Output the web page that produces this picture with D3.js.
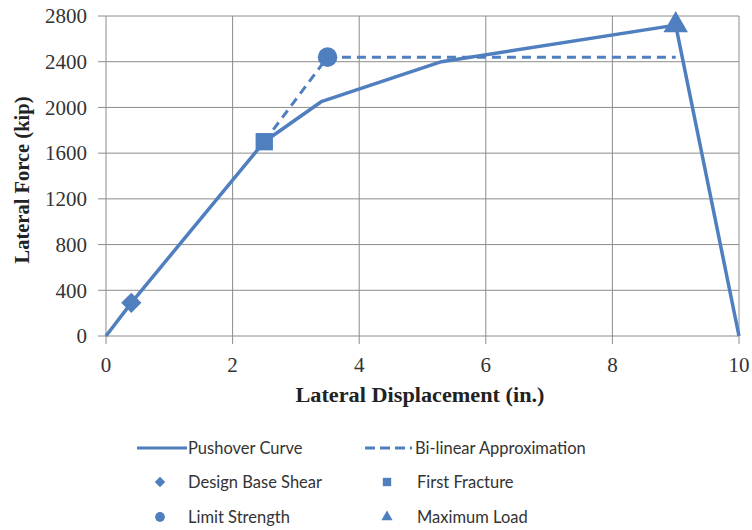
<!DOCTYPE html>
<html>
<head>
<meta charset="utf-8">
<script src="https://cdn.jsdelivr.net/npm/d3@7"></script>
<style>
  body { margin: 0; background: #fff; }
</style>
</head>
<body>
<div id="chart"></div>
<script>
// pushover curve (displacement in., force kip)
const pushoverX = [0, 0.4, 2.5, 3.4, 5.3, 9, 10]
const pushoverY = [0, 290, 1700, 2050, 2400, 2720, 0]

// bi-linear approximation
const bilinearX = [2.5, 3.5, 9]
const bilinearY = [1700, 2440, 2440]

// key points
const markerNames = ["Design Base Shear", "First Fracture", "Limit Strength", "Maximum Load"]
const markerX = [0.4, 2.5, 3.5, 9]
const markerY = [290, 1700, 2440, 2720]
const markerSymbols = [d3.symbolDiamond2, d3.symbolSquare, d3.symbolCircle, d3.symbolTriangle]

const xTicks = [0, 2, 4, 6, 8, 10]
const yTicks = [0, 400, 800, 1200, 1600, 2000, 2400, 2800]

const blue = "#4f7fbe"
const grid = "#8c8c8c"

let width = 752,
    height = 530

let svg = d3.select("#chart").append("svg")
    .attr("width", width)
    .attr("height", height)

let x = d3.scaleLinear().domain([0, 10]).range([106, 739])
let y = d3.scaleLinear().domain([0, 2800]).range([336, 16])

let tickFont = "'Liberation Serif', 'Times New Roman', serif"

// grid lines
svg.append("g")
    .selectAll("line")
    .data(yTicks)
    .join("line")
    .attr("x1", x(0) - 8)
    .attr("x2", x(10))
    .attr("y1", d => y(d))
    .attr("y2", d => y(d))
    .attr("stroke", grid)
    .attr("stroke-width", 1)

svg.append("g")
    .selectAll("line")
    .data(xTicks)
    .join("line")
    .attr("x1", d => x(d))
    .attr("x2", d => x(d))
    .attr("y1", y(2800))
    .attr("y2", y(0) + 8)
    .attr("stroke", grid)
    .attr("stroke-width", 1)

// tick labels
svg.append("g")
    .selectAll("text")
    .data(yTicks)
    .join("text")
    .attr("x", x(0) - 19)
    .attr("y", d => y(d))
    .attr("dy", "0.35em")
    .attr("text-anchor", "end")
    .attr("font-family", tickFont)
    .attr("font-size", 21)
    .attr("fill", "#333")
    .text(d => d)

svg.append("g")
    .selectAll("text")
    .data(xTicks)
    .join("text")
    .attr("x", d => x(d))
    .attr("y", 365)
    .attr("dy", "0.35em")
    .attr("text-anchor", "middle")
    .attr("font-family", tickFont)
    .attr("font-size", 21)
    .attr("fill", "#333")
    .text(d => d)

// axis titles
svg.append("text")
    .attr("x", 420)
    .attr("y", 395)
    .attr("dy", "0.35em")
    .attr("text-anchor", "middle")
    .attr("font-family", tickFont)
    .attr("font-size", 20.5)
    .attr("font-weight", "bold")
    .attr("fill", "#222")
    .attr("textLength", 249)
    .attr("lengthAdjust", "spacingAndGlyphs")
    .text("Lateral Displacement (in.)")

svg.append("text")
    .attr("transform", "translate(22,180) rotate(-90)")
    .attr("dy", "0.35em")
    .attr("text-anchor", "middle")
    .attr("font-family", tickFont)
    .attr("font-size", 20.5)
    .attr("font-weight", "bold")
    .attr("fill", "#222")
    .text("Lateral Force (kip)")

const line = d3.line()
    .x(d => x(d[0]))
    .y(d => y(d[1]))

svg.append("path")
    .attr("d", line(bilinearX.map((d, i) => [d, bilinearY[i]])))
    .attr("fill", "none")
    .attr("stroke", blue)
    .attr("stroke-width", 3)
    .attr("stroke-dasharray", "9,6")

svg.append("path")
    .attr("d", line(pushoverX.map((d, i) => [d, pushoverY[i]])))
    .attr("fill", "none")
    .attr("stroke", blue)
    .attr("stroke-width", 3.5)
    .attr("stroke-linejoin", "round")

const markerSizes = [260, 300, 300, 260]

svg.append("g")
    .selectAll("path")
    .data(markerX)
    .join("path")
    .attr("transform", (d, i) => `translate(${x(d)},${y(markerY[i])})`)
    .attr("d", (d, i) => d3.symbol().type(markerSymbols[i]).size(markerSizes[i])())
    .attr("fill", blue)

// legend
let legendFont = "Lato, 'Open Sans', sans-serif"
let legend = svg.append("g")
    .attr("font-family", legendFont)
    .attr("font-size", 16.5)
    .attr("fill", "#333")

legend.append("line")
    .attr("x1", 137).attr("x2", 187)
    .attr("y1", 448).attr("y2", 448)
    .attr("stroke", blue).attr("stroke-width", 3)
legend.append("text").attr("x", 188).attr("y", 448).attr("dy", "0.35em").text("Pushover Curve")

legend.append("line")
    .attr("x1", 365).attr("x2", 412)
    .attr("y1", 448).attr("y2", 448)
    .attr("stroke", blue).attr("stroke-width", 3)
    .attr("stroke-dasharray", "10,5")
legend.append("text").attr("x", 415).attr("y", 448).attr("dy", "0.35em").text("Bi-linear Approximation")

const legX = [160, 387, 160, 387]
const legY = [482, 482, 517, 517]
const legTextX = [188, 417, 188, 417]
const legSizes = [70, 70, 75, 55]

markerNames.forEach((name, i) => {
    legend.append("path")
        .attr("transform", `translate(${legX[i]},${legY[i]})`)
        .attr("d", d3.symbol().type(markerSymbols[i]).size(legSizes[i])())
        .attr("fill", blue)
    legend.append("text")
        .attr("x", legTextX[i])
        .attr("y", legY[i])
        .attr("dy", "0.35em")
        .text(name)
})
</script>
</body>
</html>
